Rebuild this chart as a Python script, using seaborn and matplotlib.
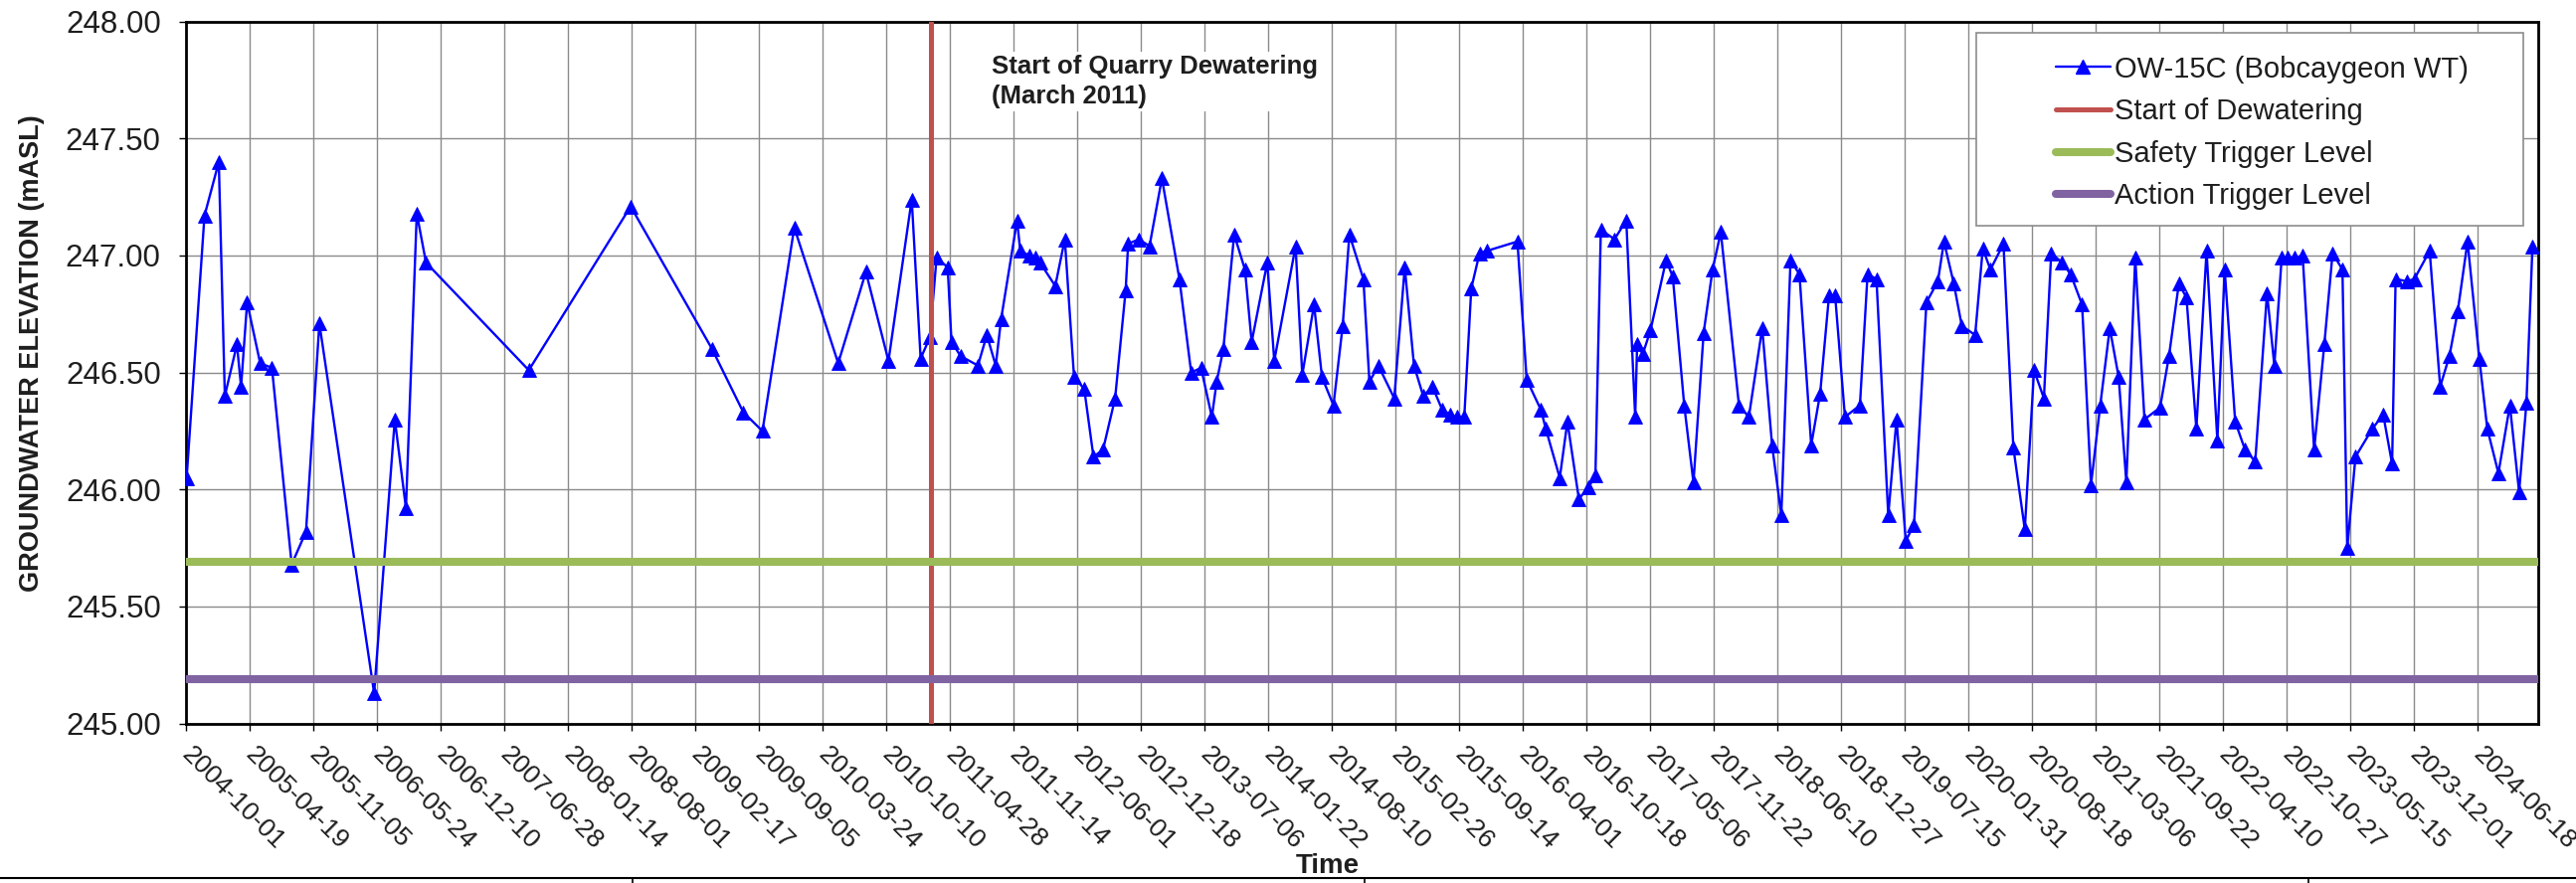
import numpy as np
import pandas as pd
import matplotlib
matplotlib.use("Agg")
import matplotlib.pyplot as plt
import matplotlib.dates as mdates
from matplotlib.lines import Line2D
from matplotlib.patches import Rectangle
from matplotlib.ticker import FormatStrFormatter
import seaborn as sns

# ---- data -----------------------------------------------------------------
START = "2004-10-01"
# elapsed days since START for each water level measurement
elapsed_days = [
    3, 59, 104, 123, 161, 174, 193, 234, 271, 333,
    378, 420, 592, 657, 692, 726, 755, 1078, 1398, 1654,
    1752, 1812, 1912, 2050, 2137, 2208, 2281, 2309, 2338, 2359,
    2394, 2406, 2435, 2489, 2517, 2545, 2562, 2612, 2622, 2651,
    2670, 2684, 2732, 2762, 2791, 2823, 2852, 2882, 2920, 2953,
    2961, 2995, 3028, 3067, 3122, 3159, 3190, 3224, 3239, 3260,
    3294, 3328, 3349, 3398, 3420, 3487, 3508, 3545, 3570, 3606,
    3635, 3656, 3700, 3719, 3747, 3797, 3830, 3859, 3888, 3917,
    3948, 3974, 3995, 4017, 4039, 4065, 4088, 4184, 4213, 4258,
    4273, 4317, 4341, 4377, 4408, 4429, 4446, 4489, 4526, 4554,
    4560, 4578, 4602, 4651, 4672, 4708, 4737, 4769, 4797, 4823,
    4880, 4911, 4953, 4984, 5013, 5042, 5070, 5107, 5135, 5163,
    5182, 5213, 5260, 5284, 5312, 5349, 5375, 5404, 5430, 5469,
    5505, 5524, 5555, 5580, 5622, 5646, 5670, 5711, 5742, 5778,
    5807, 5838, 5861, 5895, 5922, 5958, 5986, 6015, 6045, 6073,
    6097, 6125, 6154, 6203, 6231, 6262, 6286, 6317, 6349, 6383,
    6406, 6439, 6470, 6502, 6539, 6562, 6585, 6604, 6625, 6651,
    6687, 6719, 6745, 6776, 6791, 6817, 6870, 6904, 6932, 6943,
    6979, 7002, 7050, 7083, 7112, 7138, 7169, 7206, 7231, 7266,
    7302, 7331, 7354, 7373,
]
# groundwater elevation (mASL)
elevation = [
    246.05, 247.17, 247.40, 246.40, 246.62, 246.44, 246.80, 246.54, 246.52, 245.68,
    245.82, 246.71, 245.13, 246.30, 245.92, 247.18, 246.97, 246.51, 247.21, 246.60,
    246.33, 246.25, 247.12, 246.54, 246.93, 246.55, 247.24, 246.56, 246.65, 246.99,
    246.95, 246.63, 246.57, 246.53, 246.66, 246.53, 246.73, 247.15, 247.02, 247.00,
    246.99, 246.97, 246.87, 247.07, 246.48, 246.43, 246.14, 246.17, 246.39, 246.85,
    247.05, 247.07, 247.04, 247.33, 246.90, 246.50, 246.52, 246.31, 246.46, 246.60,
    247.09, 246.94, 246.63, 246.97, 246.55, 247.04, 246.49, 246.79, 246.48, 246.36,
    246.70, 247.09, 246.90, 246.46, 246.53, 246.39, 246.95, 246.53, 246.40, 246.44,
    246.34, 246.32, 246.31, 246.31, 246.86, 247.01, 247.02, 247.06, 246.47, 246.34,
    246.26, 246.05, 246.29, 245.96, 246.01, 246.06, 247.11, 247.07, 247.15, 246.31,
    246.62, 246.58, 246.68, 246.98, 246.91, 246.36, 246.03, 246.67, 246.94, 247.10,
    246.36, 246.31, 246.69, 246.19, 245.89, 246.98, 246.92, 246.19, 246.41, 246.83,
    246.83, 246.31, 246.36, 246.92, 246.90, 245.89, 246.30, 245.78, 245.85, 246.80,
    246.89, 247.06, 246.88, 246.70, 246.66, 247.03, 246.94, 247.05, 246.18, 245.83,
    246.51, 246.39, 247.01, 246.97, 246.92, 246.79, 246.02, 246.36, 246.69, 246.48,
    246.03, 246.99, 246.30, 246.35, 246.57, 246.88, 246.82, 246.26, 247.02, 246.21,
    246.94, 246.29, 246.17, 246.12, 246.84, 246.53, 246.99, 246.99, 246.99, 247.00,
    246.17, 246.62, 247.01, 246.94, 245.75, 246.14, 246.26, 246.32, 246.11, 246.90,
    246.89, 246.90, 247.02, 246.44, 246.57, 246.76, 247.06, 246.56, 246.26, 246.07,
    246.36, 245.99, 246.37, 247.04,
]
series_label = "OW-15C (Bobcaygeon WT)"
dewatering_label = "Start of Dewatering"
safety_label = "Safety Trigger Level"
action_label = "Action Trigger Level"
dewatering_start = "2011-03-01"
safety_trigger = 245.69
action_trigger = 245.19
y_ticks = [245.0, 245.5, 246.0, 246.5, 247.0, 247.5, 248.0]
tick_step_days = 200
n_date_ticks = 37
axis_end_days = 7391

# ---- styling ----------------------------------------------------------------
sns.set_theme(style="white")
plt.rcParams["font.family"] = ["Liberation Sans", "DejaVu Sans"]

BLUE = "#0000FF"
RED = "#C0504D"
GREEN = "#9BBB59"
PURPLE = "#8064A2"
TXT = "#1e1e1e"

W, H = 2590, 888
fig = plt.figure(figsize=(W / 100, H / 100), dpi=100)
fig.patch.set_facecolor("white")
left_px, right_px, top_px, bot_px = 186.7, 2552, 21.7, 727.6
ax = fig.add_axes([left_px / W, 1 - bot_px / H, (right_px - left_px) / W, (bot_px - top_px) / H])

start = pd.Timestamp(START)
df = pd.DataFrame({
    "date": start + pd.to_timedelta(elapsed_days, unit="D"),
    "elevation": elevation,
})

sns.lineplot(data=df, x="date", y="elevation", ax=ax, color=BLUE, linewidth=1.7,
             marker="^", markersize=10.5, markeredgecolor=BLUE, markeredgewidth=0.6,
             estimator=None, sort=False, legend=False, zorder=3)

ax.axvline(pd.Timestamp(dewatering_start), color=RED, linewidth=3.6, zorder=4)
ax.axhline(safety_trigger, color=GREEN, linewidth=5.8, zorder=4)
ax.axhline(action_trigger, color=PURPLE, linewidth=5.8, zorder=4)

# axes ranges and ticks
ax.set_ylim(y_ticks[0], y_ticks[-1])
ax.set_yticks(y_ticks)
ax.yaxis.set_major_formatter(FormatStrFormatter("%.2f"))
ax.set_xlim(start, start + pd.Timedelta(days=axis_end_days))
date_ticks = [start + pd.Timedelta(days=tick_step_days * i) for i in range(n_date_ticks)]
ax.set_xticks(date_ticks)
ax.xaxis.set_major_formatter(mdates.DateFormatter("%Y-%m-%d"))

ax.grid(True, color="#8a8a8a", linewidth=1.0)
ax.set_axisbelow(True)
for sp in ax.spines.values():
    sp.set_visible(True)
    sp.set_color("black")
    sp.set_linewidth(2.0)

ax.tick_params(axis="both", which="major", bottom=True, left=True, direction="out",
               length=5, width=1, color="black", labelcolor=TXT)
ax.tick_params(axis="y", labelsize=22.5, pad=13)
ax.tick_params(axis="x", labelsize=19, pad=15)
for lbl in ax.get_xticklabels():
    lbl.set_rotation(-45)
    lbl.set_ha("left")
    lbl.set_va("center")
    lbl.set_rotation_mode("anchor")

ax.set_xlabel("Time", fontsize=20, fontweight="bold", color=TXT)
ax.xaxis.set_label_coords((1335 - left_px) / (right_px - left_px), (bot_px - 858) / (bot_px - top_px))
ax.set_ylabel("GROUNDWATER ELEVATION (mASL)", fontsize=19.5, fontweight="bold", color=TXT)
ax.yaxis.set_label_coords((45 - left_px) / (right_px - left_px), (bot_px - 355) / (bot_px - top_px))

# annotation for start of dewatering
ax.text(997 / W, 1 - 55 / H, "Start of Quarry Dewatering\n(March 2011)",
        transform=fig.transFigure, fontsize=18.5, fontweight="bold", color=TXT,
        ha="left", va="top", linespacing=1.32, zorder=6,
        bbox=dict(facecolor="white", edgecolor="none", pad=2))

# legend with a white box behind it
frame = Rectangle((1987 / W, 1 - 227 / H), 550 / W, 194 / H, transform=fig.transFigure,
                  facecolor="white", edgecolor="#8c8c8c", linewidth=1.2, zorder=7, clip_on=False)
ax.add_patch(frame)
handles = [
    Line2D([], [], color=BLUE, linewidth=1.7, marker="^", markersize=10.5, markeredgecolor=BLUE),
    Line2D([], [], color=RED, linewidth=3.6),
    Line2D([], [], color=GREEN, linewidth=5.8),
    Line2D([], [], color=PURPLE, linewidth=5.8),
]
leg = ax.legend(handles, [series_label, dewatering_label, safety_label, action_label],
                loc="upper left", bbox_to_anchor=(2052 / W, 1 - 41 / H),
                bbox_transform=fig.transFigure, frameon=False, borderpad=0,
                handlelength=1.9, handletextpad=0.15, labelspacing=0.5, fontsize=21)
leg.set_zorder(8)
for t in leg.get_texts():
    t.set_color(TXT)

# page border below the chart
fig.add_artist(Line2D([0, 1], [1 - 883 / H, 1 - 883 / H], transform=fig.transFigure,
                      color="black", linewidth=1.5))
for xp in (636, 1372, 2321):
    fig.add_artist(Line2D([xp / W, xp / W], [0, 1 - 883 / H], transform=fig.transFigure,
                          color="black", linewidth=1.2))

fig.savefig("out.png", dpi=100, facecolor="white")
